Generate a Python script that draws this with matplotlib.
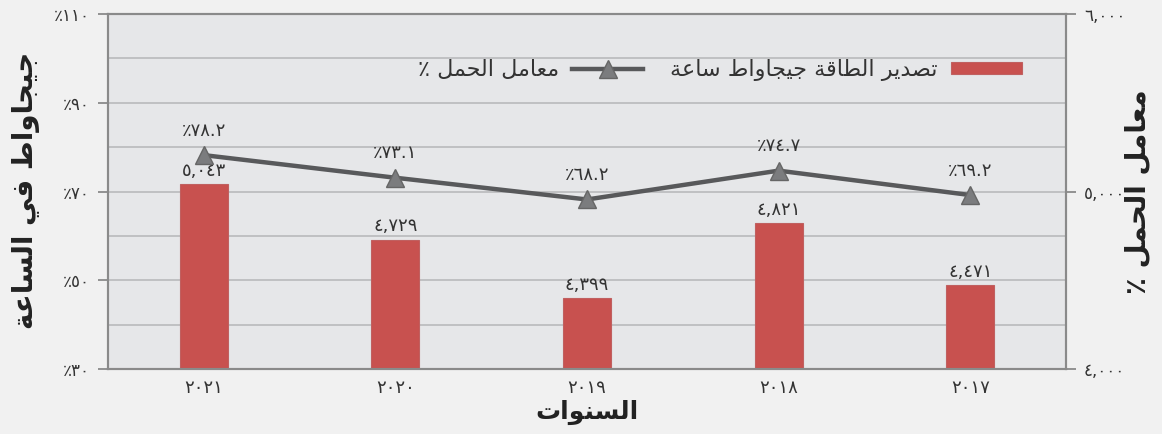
import matplotlib
matplotlib.use("Agg")
import matplotlib.pyplot as plt
from matplotlib.ticker import FixedLocator, MultipleLocator

plt.rcParams['font.family'] = ['DejaVu Sans']

# data (right to left chart: 2021 first on the left)
years = ['٢٠٢١', '٢٠٢٠', '٢٠١٩', '٢٠١٨', '٢٠١٧']
energy_gwh = [5043, 4729, 4399, 4821, 4471]
energy_lbl = ['٥,٠٤٣', '٤,٧٢٩', '٤,٣٩٩', '٤,٨٢١', '٤,٤٧١']
load_factor = [78.2, 73.1, 68.2, 74.7, 69.2]
load_lbl = ['٪٧٨.٢', '٪٧٣.١', '٪٦٨.٢', '٪٧٤.٧', '٪٦٩.٢']
pct_ticks = [30, 50, 70, 90, 110]
pct_lbl = ['٪٣٠', '٪٥٠', '٪٧٠', '٪٩٠', '٪١١٠']
gwh_ticks = [4000, 5000, 6000]
gwh_lbl = ['٤,٠٠٠', '٥,٠٠٠', '٦,٠٠٠']

# hand made arabic shaping (isolated, final, initial, medial)
FORMS = {
    'ا': (0xFE8D, 0xFE8E, None, None),
    'ة': (0xFE93, 0xFE94, None, None),
    'ت': (0xFE95, 0xFE96, 0xFE97, 0xFE98),
    'ج': (0xFE9D, 0xFE9E, 0xFE9F, 0xFEA0),
    'ح': (0xFEA1, 0xFEA2, 0xFEA3, 0xFEA4),
    'د': (0xFEA9, 0xFEAA, None, None),
    'ر': (0xFEAD, 0xFEAE, None, None),
    'س': (0xFEB1, 0xFEB2, 0xFEB3, 0xFEB4),
    'ص': (0xFEB9, 0xFEBA, 0xFEBB, 0xFEBC),
    'ط': (0xFEC1, 0xFEC2, 0xFEC3, 0xFEC4),
    'ع': (0xFEC9, 0xFECA, 0xFECB, 0xFECC),
    'ف': (0xFED1, 0xFED2, 0xFED3, 0xFED4),
    'ق': (0xFED5, 0xFED6, 0xFED7, 0xFED8),
    'ل': (0xFEDD, 0xFEDE, 0xFEDF, 0xFEE0),
    'م': (0xFEE1, 0xFEE2, 0xFEE3, 0xFEE4),
    'ن': (0xFEE5, 0xFEE6, 0xFEE7, 0xFEE8),
    'و': (0xFEED, 0xFEEE, None, None),
    'ي': (0xFEF1, 0xFEF2, 0xFEF3, 0xFEF4),
}


def ar(text):
    out = []
    for i, c in enumerate(text):
        if c not in FORMS:
            out.append(c)
            continue
        prev = text[i - 1] if i > 0 else ''
        nxt = text[i + 1] if i + 1 < len(text) else ''
        jp = prev in FORMS and FORMS[prev][2] is not None
        jn = FORMS[c][2] is not None and nxt in FORMS
        f = FORMS[c]
        if jp and jn:
            code = f[3]
        elif jp:
            code = f[1]
        elif jn:
            code = f[2]
        else:
            code = f[0]
        out.append(chr(code))
    return ''.join(reversed(out))


bar_color = '#c8514f'
line_color = '#58595b'
text_color = '#333333'

fig = plt.figure(figsize=(11.62, 4.34), dpi=100)
fig.patch.set_facecolor('#f1f1f1')
ax = fig.add_axes([108 / 1162, 1 - 369 / 434, 958 / 1162, 355 / 434])
ax.set_facecolor('#e6e7e9')
ax2 = ax.twinx()

x = list(range(len(years)))

# bars on the right axis
bars = ax.bar(x, energy_gwh, width=0.25, color=bar_color, edgecolor='#c06060',
              linewidth=0.8, zorder=2, label=ar('تصدير الطاقة جيجاواط ساعة'))
ax.set_ylim(4000, 6000)
ax.set_xlim(-0.5, 4.5)
ax.yaxis.tick_right()
ax.yaxis.set_major_locator(FixedLocator(gwh_ticks))
ax.set_yticklabels(gwh_lbl)
ax.yaxis.set_minor_locator(MultipleLocator(250))
ax.grid(which='both', axis='y', color='#bcbdbf', linewidth=1.3)
ax.set_axisbelow(True)
ax.tick_params(axis='y', which='minor', length=0)
ax.tick_params(axis='y', which='major', length=7, color='#8a8a8a', width=1.3,
               labelsize=12, labelcolor=text_color, pad=6)
ax.set_xticks(x)
ax.set_xticklabels(years)
ax.tick_params(axis='x', length=0, labelsize=13, labelcolor=text_color, pad=7)
for b, lbl in zip(bars, energy_lbl):
    ax.annotate(lbl, (b.get_x() + b.get_width() / 2, b.get_height()),
                xytext=(0, 3), textcoords='offset points', ha='center',
                va='bottom', fontsize=13, color=text_color)

# line on the left axis
ax2.yaxis.tick_left()
ax2.set_ylim(30, 110)
ax2.set_yticks(pct_ticks)
ax2.set_yticklabels(pct_lbl)
ax2.tick_params(axis='y', length=7, color='#8a8a8a', width=1.3, labelsize=12,
                labelcolor=text_color, pad=6)
line, = ax2.plot(x, load_factor, color=line_color, linewidth=3.2, marker='^',
                 markersize=13, markerfacecolor='#7b7c7e',
                 markeredgecolor='#666666', zorder=3, label=ar('معامل الحمل ٪'))
for xi, v, lbl in zip(x, load_factor, load_lbl):
    ax2.annotate(lbl, (xi, v), xytext=(0, 11), textcoords='offset points',
                 ha='center', va='bottom', fontsize=13, color=text_color)

for a in (ax, ax2):
    for s in a.spines.values():
        s.set_color('#8a8a8a')
        s.set_linewidth(1.5)

fig.legend([line, bars], [line.get_label(), bars.get_label()], ncol=2,
           markerfirst=False, frameon=False, loc='center',
           bbox_to_anchor=(720 / 1162, 1 - 70 / 434), fontsize=16,
           handlelength=3.2, handleheight=0.5, handletextpad=0.6,
           columnspacing=1.2, labelcolor=text_color)

fig.text(26 / 1162, 1 - 190 / 434, ar('جيجاواط في الساعة'), rotation=90,
         ha='center', va='center', fontsize=20, fontweight='bold', color='#222222')
fig.text(1138 / 1162, 1 - 192 / 434, ar('معامل الحمل ٪'), rotation=90,
         ha='center', va='center', fontsize=20, fontweight='bold', color='#222222')
fig.text(587 / 1162, 1 - 412 / 434, ar('السنوات'), ha='center', va='center',
         fontsize=18, fontweight='bold', color='#222222')

fig.savefig('out.png', dpi=100, facecolor=fig.get_facecolor())
